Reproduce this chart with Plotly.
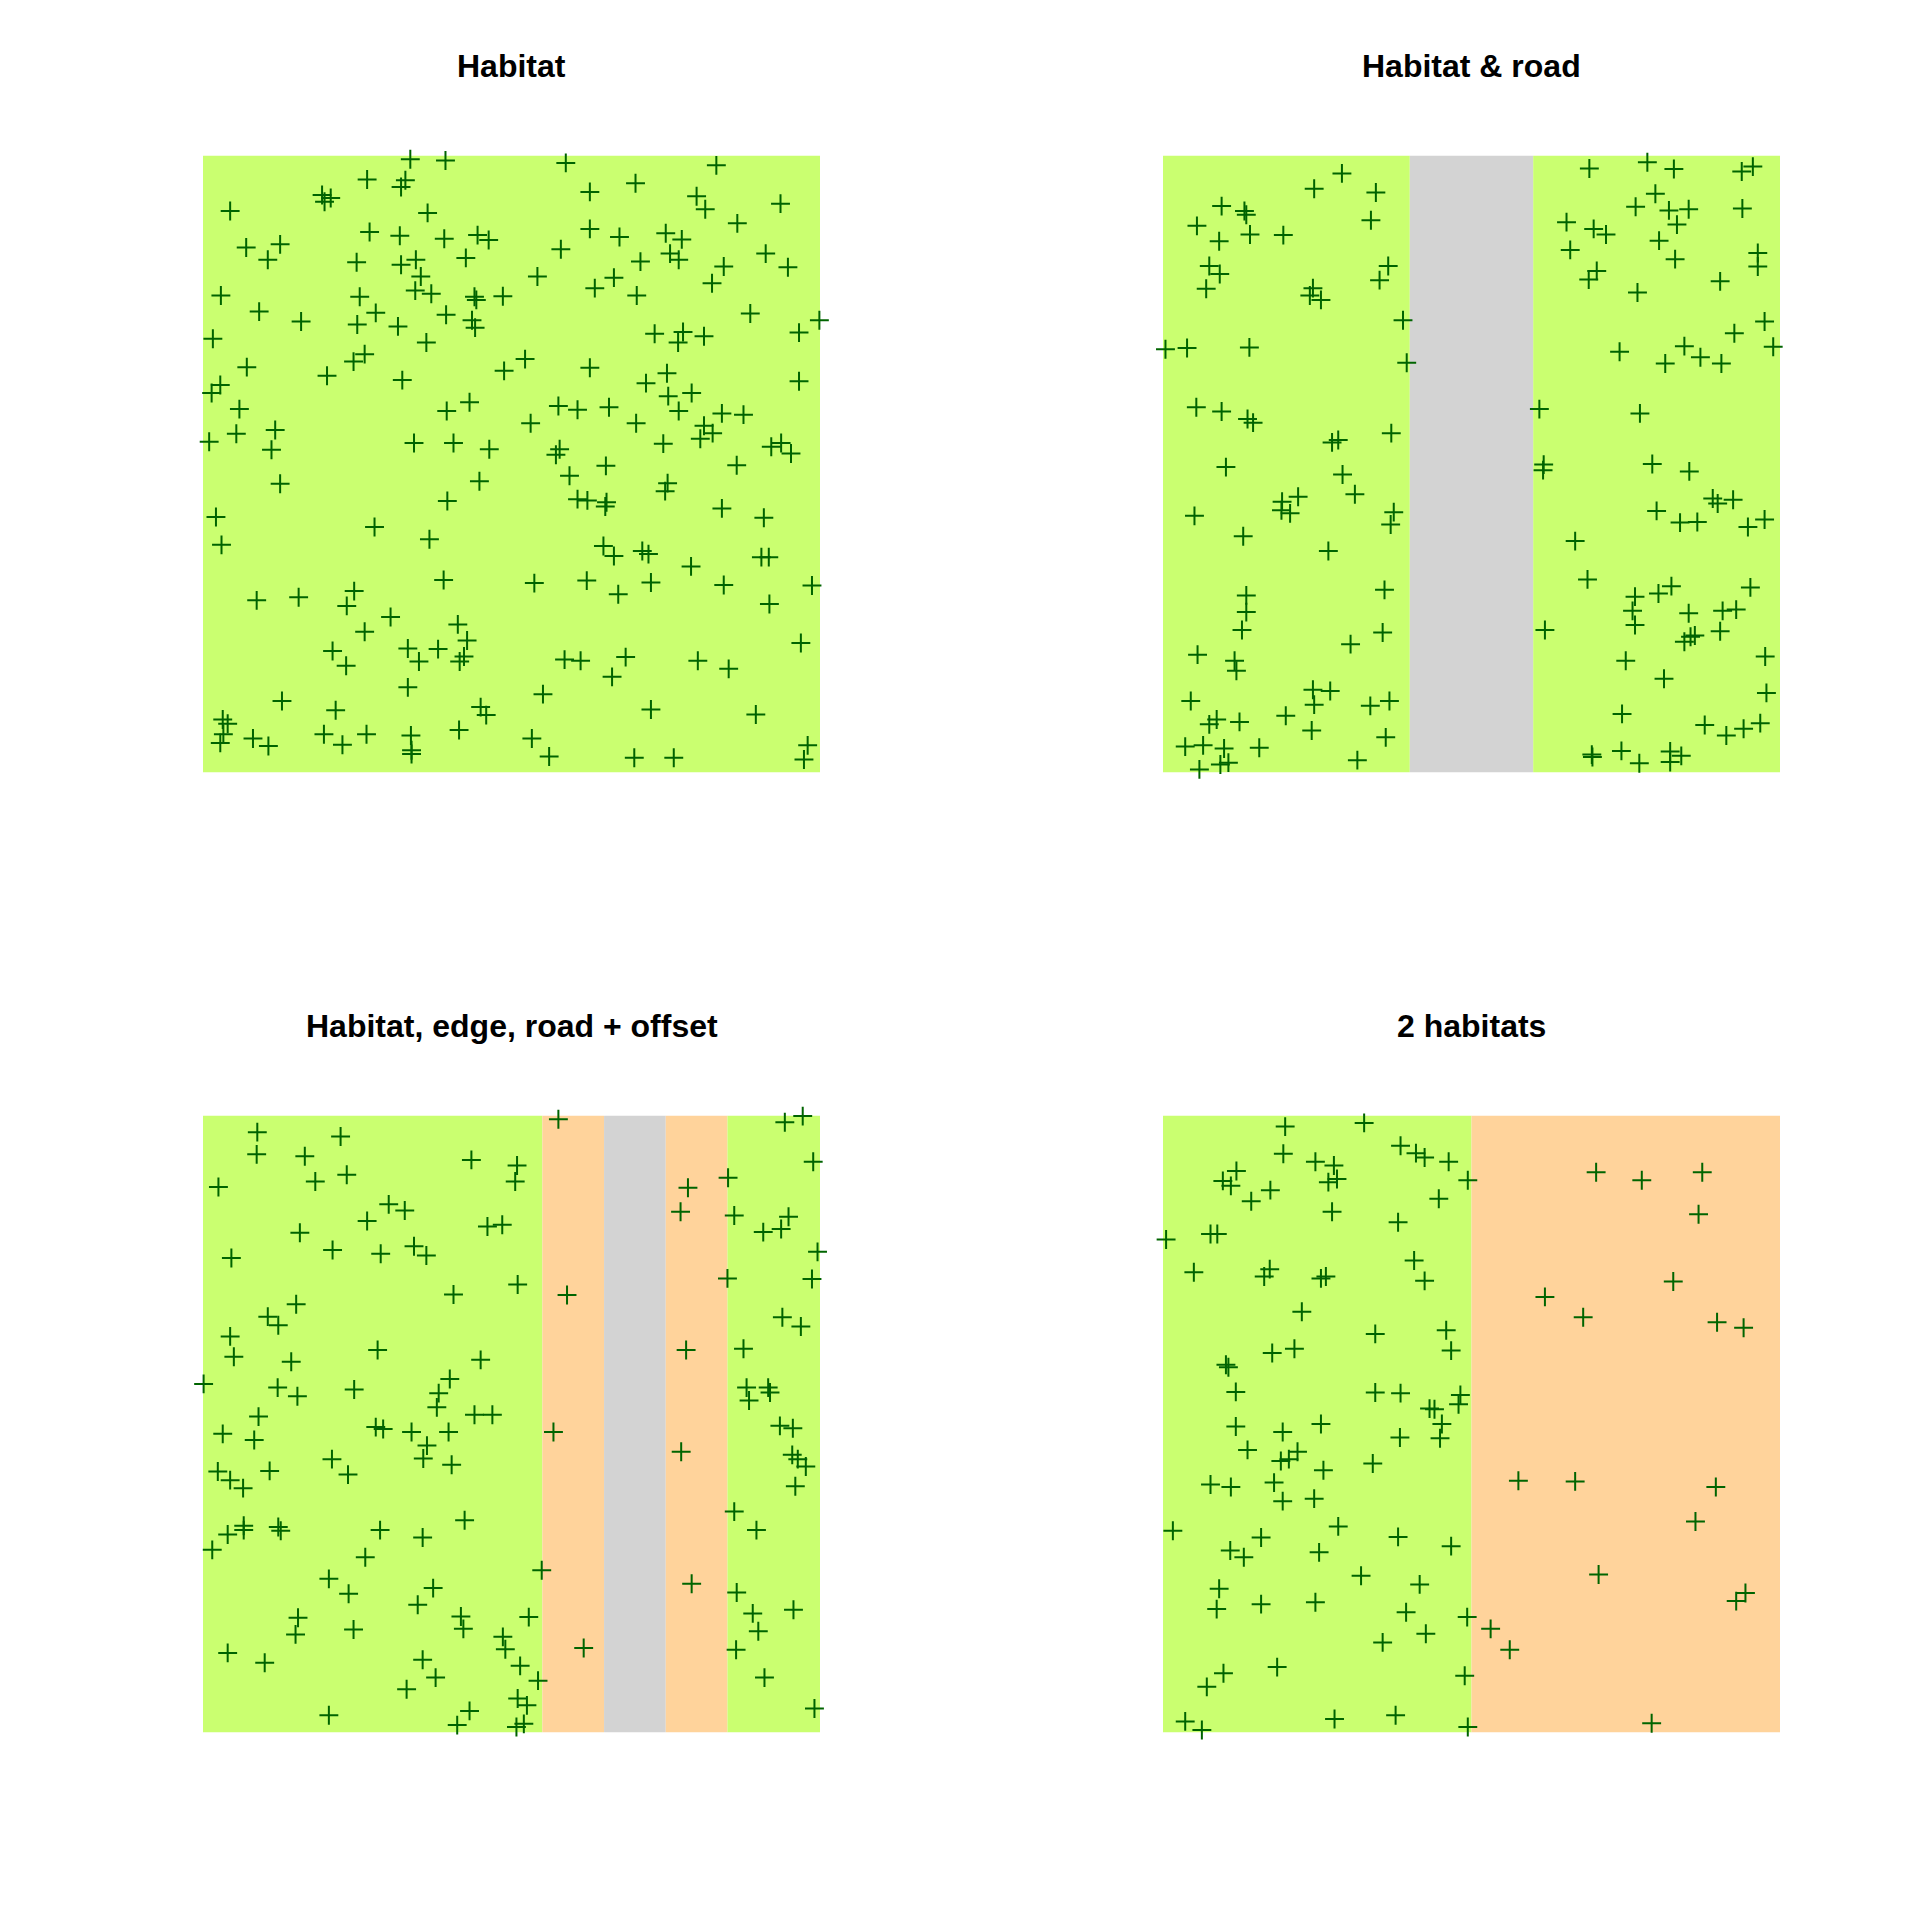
import plotly.graph_objects as go

# ---------------- data (map units 0-100 in x and y) ----------------
titles = ["Habitat", "Habitat & road", "Habitat, edge, road + offset", "2 habitats"]

# zone breaks along x and their classes, per panel
p1_breaks = [0, 100]
p1_classes = ["habitat"]
p2_breaks = [0, 40, 60, 100]
p2_classes = ["habitat", "road", "habitat"]
p3_breaks = [0, 55, 65, 75, 85, 100]
p3_classes = ["habitat", "edge", "road", "edge", "habitat"]
p4_breaks = [0, 50, 100]
p4_classes = ["habitat", "habitat2"]

class_colours = {"habitat": "#CAFF70", "road": "#D3D3D3", "edge": "#FFD39B", "habitat2": "#FFD39B"}

p1_pts = [
    (33.6,99.4),(39.3,99.2),(58.8,98.8),(83.2,98.4),(26.6,96.1),(32.8,96.0),(32.1,94.9),(70.1,95.5),(62.7,94.1),(19.3,93.6),
    (20.7,93.1),(19.7,92.5),(80.0,93.4),(81.4,91.3),(93.6,92.2),(4.4,91.0),(36.4,90.7),(86.6,89.0),(27.0,87.6),(31.9,87.0),
    (39.1,86.5),(44.5,87.1),(46.3,86.3),(62.7,88.1),(67.5,86.8),(75.0,87.4),(77.6,86.4),(7.0,85.1),(12.5,85.6),(10.5,83.1),
    (24.9,82.7),(32.1,82.3),(34.5,83.1),(42.6,83.4),(58.0,84.8),(70.9,82.8),(75.7,84.1),(77.1,83.1),(84.4,82.0),(91.2,84.1),
    (94.8,81.9),(35.3,80.4),(54.2,80.4),(66.6,80.2),(63.5,78.5),(82.5,79.3),(2.9,77.3),(25.4,77.1),(34.4,78.1),(37.0,77.6),
    (44.0,77.1),(44.3,76.6),(48.6,77.2),(70.3,77.3),(9.1,74.7),(28.0,74.5),(39.4,74.2),(15.9,73.1),(25.0,72.6),(31.6,72.3),
    (43.6,73.3),(44.1,72.1),(88.7,74.4),(99.9,73.3),(1.6,70.3),(36.2,69.7),(73.2,71.1),(77.8,71.4),(77.0,69.7),(81.2,70.7),
    (96.6,71.3),(26.2,67.8),(24.4,66.6),(52.2,67.0),(7.1,65.7),(20.1,64.3),(32.3,63.6),(48.8,65.1),(62.7,65.6),(75.2,64.7),
    (71.8,63.1),(96.6,63.4),(2.8,62.8),(1.4,61.5),(5.9,58.9),(43.2,60.0),(39.5,58.6),(57.6,59.4),(60.7,58.8),(65.8,59.2),
    (75.4,61.0),(79.2,61.5),(77.1,58.6),(84.1,58.2),(87.6,58.0),(53.1,56.6),(70.2,56.6),(81.2,56.2),(82.6,55.0),(5.4,54.9),
    (11.7,55.5),(1.0,53.6),(34.2,53.4),(40.6,53.4),(74.6,53.3),(80.6,54.1),(92.1,52.8),(93.7,53.4),(95.3,51.7),(11.1,52.3),
    (46.4,52.4),(57.8,52.4),(57.2,51.5),
    (59.4,48.1),(65.3,49.7),(86.5,49.8),(12.5,46.8),(44.8,47.2),(39.6,44.0),(75.3,46.9),(74.9,45.6),(60.7,44.3),(62.3,44.1),
    (65.4,43.8),(65.2,43.1),(84.1,42.8),(90.9,41.3),(2.1,41.4),(27.8,39.8),(36.7,37.8),(3.0,36.9),(64.9,36.7),(66.6,35.1),
    (71.2,35.9),(72.2,35.4),(79.1,33.4),(90.5,34.9),(91.7,34.9),(39.0,31.2),(53.7,30.7),(62.2,31.1),(72.6,30.8),(67.3,28.9),
    (84.4,30.4),(98.7,30.3),(91.8,27.3),(8.7,27.9),(15.5,28.4),(24.5,29.4),(23.3,27.0),(30.4,25.2),(26.2,22.8),(41.3,24.0),
    (42.8,21.4),(96.9,21.0),(21.0,19.7),(23.2,17.3),(33.2,20.1),(35.0,18.0),(38.1,20.0),(41.6,18.0),(42.3,18.8),(58.6,18.3),
    (61.2,18.1),(68.5,18.7),(66.3,15.5),(80.2,18.1),(85.2,16.8),(33.2,13.8),(12.8,11.6),(21.5,10.1),(45.0,10.6),(45.9,9.3),
    (55.1,12.7),(72.6,10.2),(89.6,9.4),(3.2,8.6),(4.0,7.9),(3.3,6.2),(2.8,4.8),(8.1,5.5),(10.6,4.3),(19.6,6.2),
    (22.6,4.5),(26.5,6.2),(33.7,6.0),(33.8,3.6),(33.8,3.0),(41.5,6.9),(53.3,5.5),(56.1,2.6),(69.9,2.4),(76.3,2.4),
    (98.0,4.4),(97.4,2.1),
]

p2_pts = [
    (29.0,97.1),(24.5,94.6),(34.5,94.0),(9.5,91.8),(13.2,91.0),(13.5,90.4),(5.5,88.6),(14.1,87.2),(9.1,86.1),(19.5,87.1),
    (33.7,89.5),(7.5,82.1),(9.2,80.8),(7.0,78.4),(24.3,78.5),(23.8,77.3),(25.6,76.6),(36.5,82.1),(35.1,79.8),(38.9,73.3),
    (0.4,68.6),(3.9,68.8),(14.0,68.9),(39.5,66.4),(5.4,59.2),(9.5,58.5),(13.7,57.3),(14.6,56.7),(37.0,55.0),(28.4,53.9),
    (27.4,53.5),(69.1,97.9),(78.5,98.9),(82.8,97.8),(93.8,97.4),(95.6,98.2),(79.8,93.8),(76.6,91.7),(82.0,91.1),(85.2,91.3),
    (93.9,91.4),(65.4,89.2),(69.8,88.1),(71.8,87.2),(83.3,88.8),(80.4,86.2),(66.0,84.7),(83.0,83.2),(96.4,84.2),(96.4,82.0),
    (70.3,81.3),(69.0,79.9),(90.3,79.6),(76.9,77.8),(97.5,73.1),(92.6,71.2),(84.5,69.1),(98.9,69.0),(74.0,68.2),(87.1,67.3),
    (81.4,66.3),(90.5,66.3),(61.0,58.9),(77.3,58.2),
    (10.2,49.5),(29.1,48.3),(61.7,49.9),(61.6,49.0),(79.3,50.0),(85.3,48.8),(31.1,45.1),(21.9,44.7),(19.3,43.9),(19.2,42.5),
    (20.6,42.0),(5.1,41.6),(37.4,42.2),(36.9,40.2),(13.0,38.3),(26.8,35.9),(89.1,44.4),(89.9,43.6),(92.4,44.2),(80.0,42.4),
    (83.8,40.5),(86.6,40.6),(97.5,41.0),(94.8,39.8),(66.8,37.5),(68.8,31.3),(82.4,30.2),(80.3,29.0),(76.5,28.5),(95.2,30.0),
    (76.1,26.2),(76.5,23.9),(85.2,25.8),(90.7,26.2),(92.9,26.4),(90.3,22.9),(86.2,22.2),(85.5,22.0),(84.5,21.2),(61.9,23.1),
    (75.0,18.1),(97.6,18.8),(81.2,15.2),(97.8,12.9),(74.4,9.5),(87.8,7.7),(91.3,6.0),(94.1,7.1),(96.8,8.0),(69.5,2.9),
    (69.6,2.5),(74.3,3.5),(77.2,1.5),(82.2,3.4),(84.0,2.7),(82.2,1.7),(13.5,28.7),(13.5,26.0),(35.9,29.6),(12.8,23.1),
    (35.6,22.7),(30.4,20.8),(5.6,19.1),(11.6,18.1),(11.9,16.5),(24.3,13.4),(27.1,13.2),(24.5,11.0),(36.7,11.6),(33.6,10.8),
    (4.5,11.6),(19.9,9.2),(8.7,8.6),(7.5,7.8),(12.4,8.2),(24.1,6.8),(36.1,5.7),(3.6,4.2),(6.5,4.4),(9.9,3.9),
    (15.6,4.0),(31.5,2.0),(10.6,1.6),(9.3,1.3),(5.9,0.5),
]

p3_pts = [
    (8.8,97.3),(22.3,96.6),(8.7,93.7),(16.5,93.4),(23.3,90.4),(18.2,89.3),(2.5,88.4),(43.5,92.8),(50.9,91.9),(50.6,89.3),
    (30.1,85.6),(32.7,84.6),(26.6,82.9),(15.7,81.0),(46.1,82.0),(48.5,82.3),(21.0,78.2),(28.8,77.6),(34.2,78.8),(36.2,77.3),
    (4.6,76.9),(51.0,72.6),(40.6,71.0),(15.1,69.4),(10.5,67.4),(12.2,66.0),(4.4,64.2),(28.3,62.0),(45.0,60.4),(5.0,60.9),
    (14.3,60.1),(0.1,56.5),(12.1,55.9),(15.3,54.5),(24.5,55.6),(40.0,57.3),(38.2,55.0),(37.9,52.7),(57.6,99.4),(59.0,70.9),
    (78.6,88.3),(77.4,84.4),(78.3,62.0),(85.1,89.9),(86.1,83.8),(94.3,98.9),(97.2,99.9),(98.9,92.5),(94.9,83.6),(90.8,81.1),
    (93.7,81.6),(99.6,77.9),(85.0,73.6),(98.7,73.5),(93.9,67.3),(96.9,65.8),(87.6,62.2),(88.1,55.9),(91.6,55.9),(91.9,55.1),
    (88.5,53.8),(9.0,51.2),(44.0,51.5),(46.9,51.5),
    (28.0,49.5),(29.2,49.2),(3.2,48.4),(8.3,47.4),(33.8,48.7),(39.8,48.7),(36.3,46.5),(35.7,44.4),(40.3,43.4),(20.9,44.3),
    (23.5,41.8),(2.4,42.3),(4.4,40.9),(6.5,39.6),(10.8,42.4),(56.8,48.7),(77.5,45.5),(93.5,49.7),(95.6,49.3),(95.5,45.0),
    (96.4,44.3),(97.7,43.1),(96.0,39.9),(86.1,35.8),(89.7,32.8),(6.6,33.5),(6.6,32.8),(4.0,32.1),(12.2,33.3),(12.6,32.7),
    (1.5,29.6),(28.7,32.8),(35.6,31.6),(42.4,34.4),(26.3,28.4),(54.9,26.3),(20.4,24.9),(23.6,22.5),(37.3,23.4),(34.8,20.7),
    (15.4,18.6),(15.0,15.9),(24.4,16.7),(41.8,18.8),(42.2,16.8),(52.8,18.7),(48.6,15.5),(49.0,13.5),(4.0,12.9),(10.0,11.3),
    (35.6,11.8),(37.7,8.9),(51.4,10.8),(54.3,8.4),(33.0,7.0),(51.0,5.5),(52.5,4.4),(43.2,3.5),(20.4,2.8),(41.2,1.2),
    (52.0,1.4),(50.8,0.9),(61.7,13.7),(79.2,24.1),(86.5,22.7),(89.1,19.3),(90.0,16.4),(95.7,19.9),(86.4,13.4),(91.0,8.9),
    (99.1,3.9),
]

p4_pts = [
    (19.8,98.2),(32.6,98.8),(38.5,95.1),(41.0,93.9),(42.4,93.2),(46.3,92.5),(19.5,93.8),(24.7,92.5),(27.7,91.9),(11.9,91.0),
    (9.7,89.4),(11.0,88.6),(17.4,87.9),(26.8,89.2),(28.2,89.7),(49.4,89.5),(14.3,86.1),(44.7,86.5),(27.4,84.4),(38.1,82.7),
    (0.5,79.9),(7.7,80.8),(8.8,80.8),(5.0,74.6),(17.3,75.1),(16.4,73.9),(25.6,73.6),(26.4,73.9),(40.7,76.5),(42.4,73.2),
    (22.5,68.2),(34.4,64.6),(45.9,65.2),(46.7,61.9),(21.3,62.2),(17.7,61.5),(10.2,59.6),(10.6,59.2),(11.8,55.2),(34.4,55.1),
    (38.5,55.0),(48.2,54.7),(47.9,53.2),(43.2,52.5),(44.0,52.4),(70.2,90.8),(77.6,89.5),(87.4,90.8),(86.8,84.0),(82.7,73.1),
    (61.9,70.6),(68.1,67.3),(89.8,66.5),(94.1,65.6),
    (11.8,49.6),(19.4,48.7),(25.6,50.0),(45.2,50.0),(44.9,47.7),(38.4,47.8),(13.7,45.8),(21.8,45.5),(19.1,44.0),(20.4,44.3),
    (26.0,42.5),(34.0,43.6),(7.7,40.2),(11.0,39.8),(18.0,40.5),(19.4,37.5),(24.5,37.9),(1.6,32.7),(28.4,33.4),(15.9,31.6),
    (38.1,31.7),(46.7,30.2),(10.9,29.5),(13.1,28.4),(25.3,29.2),(32.1,25.4),(41.6,24.0),(9.1,23.3),(8.7,20.0),(15.9,20.8),
    (24.7,21.1),(39.4,19.5),(49.3,18.7),(53.1,16.8),(56.2,13.4),(42.6,16.0),(35.6,14.6),(18.5,10.6),(9.8,9.6),(7.1,7.4),
    (48.9,9.2),(3.6,1.8),(6.3,0.4),(27.8,2.2),(37.7,2.8),(49.4,0.9),(57.6,40.8),(66.8,40.7),(89.6,39.8),(86.3,34.2),
    (70.6,25.6),(94.4,22.6),(92.9,21.3),(79.2,1.5),
]

# ---------------- figure ----------------
W = H = 1920
panels = [
    (p1_pts, p1_breaks, p1_classes),
    (p2_pts, p2_breaks, p2_classes),
    (p3_pts, p3_breaks, p3_classes),
    (p4_pts, p4_breaks, p4_classes),
]
x_domains = [[203 / W, 820 / W], [1163 / W, 1780 / W]]
y_domains = [[1 - 772.5 / H, 1 - 155.5 / H], [1 - 1732.5 / H, 1 - 1115.5 / H]]

fig = go.Figure()
layout = dict(width=W, height=H, margin=dict(l=0, r=0, t=0, b=0),
              paper_bgcolor="white", plot_bgcolor="white", showlegend=False)
shapes = []
annotations = []

for i, (pts, breaks, classes) in enumerate(panels):
    row, col = divmod(i, 2)
    n = i + 1
    xa = "xaxis" if n == 1 else f"xaxis{n}"
    ya = "yaxis" if n == 1 else f"yaxis{n}"
    xr = "x" if n == 1 else f"x{n}"
    yr = "y" if n == 1 else f"y{n}"
    layout[xa] = dict(domain=x_domains[col], range=[0, 100], visible=False,
                      showgrid=False, zeroline=False, anchor=yr)
    layout[ya] = dict(domain=y_domains[row], range=[0, 100], visible=False,
                      showgrid=False, zeroline=False, anchor=xr)
    for x0, x1, cls in zip(breaks[:-1], breaks[1:], classes):
        shapes.append(dict(type="rect", xref=xr, yref=yr, x0=x0, x1=x1, y0=0, y1=100,
                           fillcolor=class_colours[cls], line=dict(width=0), layer="below"))
    fig.add_trace(go.Scatter(
        x=[p[0] for p in pts], y=[p[1] for p in pts], mode="markers",
        xaxis=xr, yaxis=yr, cliponaxis=False, hoverinfo="skip",
        marker=dict(symbol="cross-thin", size=13.5,
                    line=dict(width=2, color="#006400"), color="#006400"),
    ))
    annotations.append(dict(text=f"<b>{titles[i]}</b>", xref=f"{xr} domain", yref=f"{yr} domain",
                            x=0.5, y=1.145, xanchor="center", yanchor="middle", showarrow=False,
                            font=dict(family="Liberation Sans, Arial, sans-serif", size=32, color="black")))

layout["shapes"] = shapes
layout["annotations"] = annotations
fig.update_layout(**layout)
fig.write_html("out.html")
